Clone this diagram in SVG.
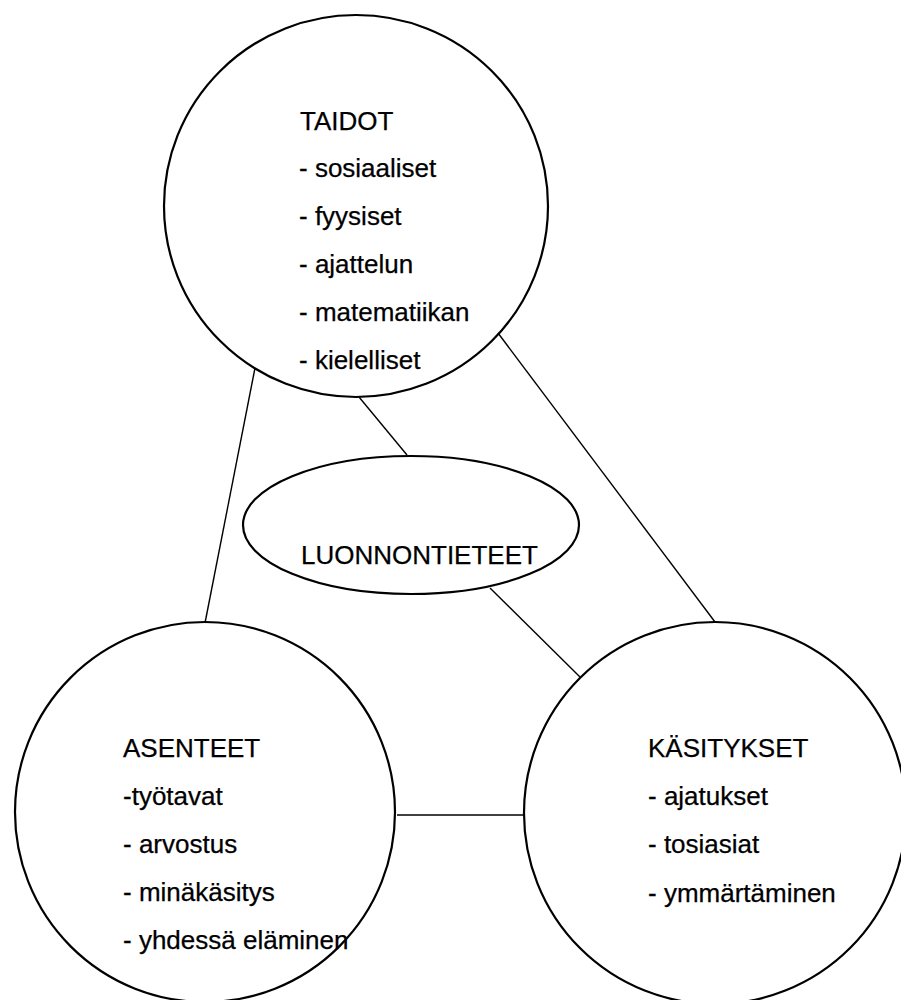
<svg xmlns="http://www.w3.org/2000/svg" width="901" height="1000" viewBox="0 0 901 1000">
<style>
.shape{fill:none;stroke:#000;stroke-width:2.2}
.conn{stroke:#000;stroke-width:1.4;fill:none}
text{font-family:"Liberation Sans",Arial,sans-serif;font-size:26px;fill:#000;stroke:#000;stroke-width:0.25}
</style>
<rect width="901" height="1000" fill="#fff"/>
<g id="connectors">
<line class="conn" x1="255" y1="368" x2="205" y2="623"/>
<line class="conn" x1="359" y1="397" x2="407" y2="455"/>
<line class="conn" x1="498" y1="333" x2="715" y2="622"/>
<line class="conn" x1="490" y1="588" x2="580" y2="677"/>
<line class="conn" x1="397" y1="815" x2="525" y2="815"/>
</g>
<g id="taidot">
<ellipse class="shape" cx="356" cy="206" rx="192" ry="191"/>
<text x="300" y="130">TAIDOT</text>
<text x="299" y="177">- sosiaaliset</text>
<text x="299" y="225">- fyysiset</text>
<text x="299" y="273">- ajattelun</text>
<text x="299" y="321">- matematiikan</text>
<text x="299" y="369">- kielelliset</text>
</g>
<g id="luonnontieteet">
<ellipse class="shape" cx="411" cy="525" rx="168" ry="69"/>
<text x="301" y="564">LUONNONTIETEET</text>
</g>
<g id="asenteet">
<circle class="shape" cx="205" cy="812" r="190"/>
<text x="123" y="757">ASENTEET</text>
<text x="123" y="805">-työtavat</text>
<text x="123" y="853">- arvostus</text>
<text x="123" y="901">- minäkäsitys</text>
<text x="123" y="949">- yhdessä eläminen</text>
</g>
<g id="kasitykset">
<circle class="shape" cx="715" cy="813" r="191"/>
<text x="648" y="757">KÄSITYKSET</text>
<text x="648" y="805">- ajatukset</text>
<text x="648" y="853">- tosiasiat</text>
<text x="648" y="902">- ymmärtäminen</text>
</g>
</svg>
